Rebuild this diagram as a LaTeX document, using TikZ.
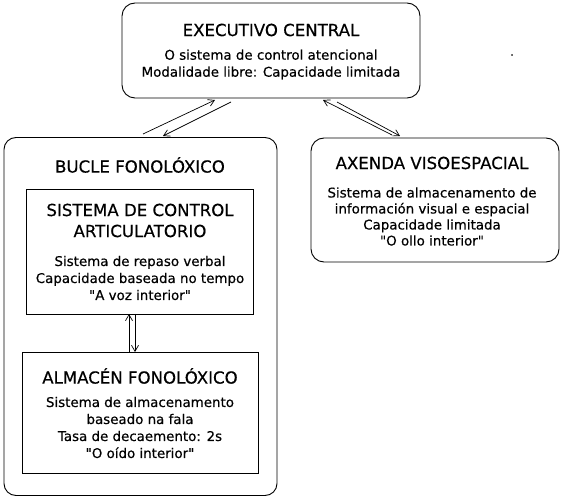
\documentclass[tikz,border=0pt]{standalone}
\usepackage{fontspec}
\setmainfont{DejaVu Sans}[FakeBold=0.4]
\newfontfamily\plainfont{DejaVu Sans}[FakeBold=0.4]
\usetikzlibrary{arrows.meta}
\newcommand\qm{{\plainfont\symbol{34}}}
\tikzset{
  box/.style={draw=black, line width=0.9pt, inner sep=0pt},
  rbox/.style={box, rounded corners=13pt},
  ttl/.style={font=\fontsize{16.6}{21}\selectfont, align=center, inner sep=0pt},
  bdy/.style={font=\fontsize{13.4}{17}\selectfont, align=center, inner sep=0pt},
  conn/.style={line width=0.7pt, -{Straight Barb[length=6pt,width=7pt,line width=0.7pt]}}
}
\begin{document}
\begin{tikzpicture}[x=1pt,y=-1pt]
\useasboundingbox (0,0) rectangle (566,500);
% boxes
\node[rbox, minimum width=298pt, minimum height=95pt] (exec) at (271,50.5) {};
\node[rbox, rounded corners=12pt, minimum width=273pt, minimum height=358pt] (bucle) at (140.5,316.5) {};
\node[box, minimum width=227pt, minimum height=125pt] (sca) at (139.5,251.5) {};
\node[box, minimum width=236pt, minimum height=121pt] (alm) at (140,412.5) {};
\node[rbox, minimum width=248pt, minimum height=124pt] (axe) at (435,200) {};
% texts
\node[ttl] (t1) at (271,30) {EXECUTIVO CENTRAL};
\node[bdy] (b1) at (271,64.5) {O sistema de control atencional\\Modalidade libre: Capacidade limitada};
\node[ttl] (t2) at (140,165) {BUCLE FONOLÓXICO};
\node[ttl] (t3) at (140,220.5) {SISTEMA DE CONTROL\\ARTICULATORIO};
\node[bdy] (b3) at (140,278) {Sistema de repaso verbal\\Capacidade baseada no tempo\\\qm A voz interior\qm};
\node[ttl] (t4) at (140,376) {ALMACÉN FONOLÓXICO};
\node[bdy] (b4) at (140,427.5) {Sistema de almacenamento\\baseado na fala\\Tasa de decaemento: 2s\\\qm O oído interior\qm};
\node[ttl] (t5) at (432,163) {AXENDA VISOESPACIAL};
\node[bdy, font=\fontsize{13.4}{16}\selectfont] (b5) at (432,216.5) {Sistema de almacenamento de\\información visual e espacial\\Capacidade limitada\\\qm O ollo interior\qm};
\node[font=\fontsize{10}{10}\selectfont, inner sep=0pt] (dot) at (512,55) {.};
% connector end points
\coordinate (a1) at (143,134);
\coordinate (a2) at (215,100);
\coordinate (b1s) at (231,102);
\coordinate (b1e) at (163,136);
\coordinate (c1) at (392,135);
\coordinate (c2) at (323,100);
\coordinate (d1) at (337,102);
\coordinate (d2) at (400,136);
\coordinate (v1) at (129,352);
\coordinate (v2) at (129,314);
\coordinate (w1) at (135,314);
\coordinate (w2) at (135,352);
\draw[conn] (a1) -- (a2);
\draw[conn] (b1s) -- (b1e);
\draw[conn] (c1) -- (c2);
\draw[conn] (d1) -- (d2);
\draw[conn] (v1) -- (v2);
\draw[conn] (w1) -- (w2);
\end{tikzpicture}
\end{document}
